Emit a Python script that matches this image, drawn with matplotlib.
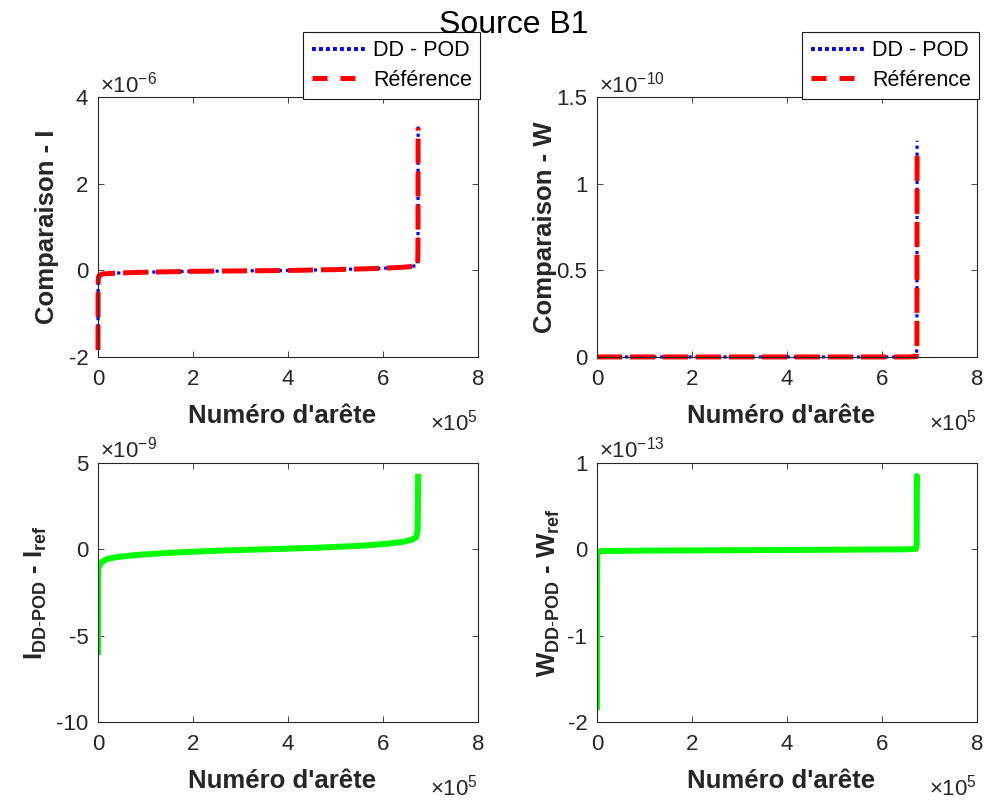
'''
    Comparaison DD-POD / reference pour la source B1.
'''

import matplotlib
matplotlib.use('Agg')
from matplotlib import pyplot as plt
from matplotlib.legend_handler import HandlerLine2D
from matplotlib.ticker import FixedLocator, FuncFormatter


# Courant I (tri croissant) en fonction du numero d'arete.
aretes_i = [0, 150, 400, 1000, 3000, 10000, 40000, 100000, 200000, 300000,
            400000, 500000, 600000, 650000, 670000, 673000, 673600, 673900]
i_ref = [-1.84e-6, -0.6e-6, -0.25e-6, -0.15e-6, -0.11e-6, -0.08e-6,
         -0.06e-6, -0.04e-6, -0.02e-6, -0.01e-6, 0.0, 0.02e-6, 0.05e-6,
         0.08e-6, 0.11e-6, 0.15e-6, 0.5e-6, 3.30e-6]
i_pod = [-1.80e-6, -0.6e-6, -0.25e-6, -0.15e-6, -0.11e-6, -0.08e-6,
         -0.06e-6, -0.04e-6, -0.02e-6, -0.01e-6, 0.0, 0.02e-6, 0.05e-6,
         0.08e-6, 0.11e-6, 0.15e-6, 0.5e-6, 3.36e-6]

# Energie W.
aretes_w = [0, 100000, 300000, 500000, 650000, 672000, 673500, 673900]
w_ref = [0.0, 0.0, 0.0, 0.0, 0.0, 0.002e-10, 0.05e-10, 1.20e-10]
w_pod = [0.0, 0.0, 0.0, 0.0, 0.0, 0.002e-10, 0.05e-10, 1.25e-10]

# Ecart I_DD-POD - I_ref.
aretes_di = [0, 200, 800, 2000, 5000, 10000, 20000, 40000, 80000, 150000,
             250000, 350000, 450000, 550000, 600000, 640000, 660000, 670000,
             673000, 673900]
ecart_i = [-5.95e-9, -1.6e-9, -1.15e-9, -1.0e-9, -0.85e-9, -0.7e-9,
           -0.55e-9, -0.45e-9, -0.33e-9, -0.2e-9, -0.08e-9, 0.0, 0.08e-9,
           0.2e-9, 0.3e-9, 0.42e-9, 0.55e-9, 0.7e-9, 1.1e-9, 4.2e-9]

# Ecart W_DD-POD - W_ref.
aretes_dw = [0, 100, 400, 2000, 10000, 100000, 300000, 500000, 650000,
             671000, 673000, 673500, 673700, 673800]
ecart_w = [-1.83e-13, -0.3e-13, -0.06e-13, -0.03e-13, -0.02e-13,
           -0.015e-13, -0.01e-13, -0.005e-13, 0.0, 0.005e-13, 0.05e-13,
           0.85e-13, 0.75e-13, 0.81e-13]

ticks_x = [0, 200000, 400000, 600000, 800000]

GRIS = '0.15'


# Tirets de la legende facon MATLAB (plus courts que sur les courbes).
def tirets_legende(legline, orig):
    legline.update_from(orig)
    if orig.get_color() == 'red':
        legline.set_dashes((3, 2.6))
    else:
        legline.set_linewidth(2.8)
        legline.set_dashes((1, 0.8))


def habiller(ax, ticks_y, exp_y, ylabel, pos_ylabel):
    ax.set_xlim(0, 800000)
    ax.set_ylim(ticks_y[0] * 10.0 ** exp_y, ticks_y[-1] * 10.0 ** exp_y)
    ax.xaxis.set_major_locator(FixedLocator(ticks_x))
    ax.xaxis.set_major_formatter(FuncFormatter(lambda v, p: f'{v / 1e5:g}'))
    ax.yaxis.set_major_locator(FixedLocator([t * 10.0 ** exp_y for t in ticks_y]))
    ax.yaxis.set_major_formatter(
        FuncFormatter(lambda v, p: f'{round(v / 10.0 ** exp_y, 6):g}'))
    ax.tick_params(direction='in', top=True, right=True, length=4,
                   width=0.6, color=GRIS, labelcolor=GRIS, labelsize=16)
    ax.tick_params(axis='x', pad=9)
    ax.tick_params(axis='y', pad=7)
    for spine in ax.spines.values():
        spine.set_color(GRIS)
        spine.set_linewidth(0.8)

    ax.set_xlabel("Numéro d'arête", fontsize=18.5, fontweight='bold', color=GRIS)
    ax.xaxis.set_label_coords(0.485, -0.18)
    ax.xaxis.label.set_va('top')
    ax.set_ylabel(ylabel, fontsize=18.5, fontweight='bold', color=GRIS)
    ax.yaxis.set_label_coords(pos_ylabel, 0.5)

    # Facteurs d'echelle facon MATLAB.
    ax.text(0.005, 1.02, r'$\times10^{%d}$' % exp_y, transform=ax.transAxes,
            ha='left', va='baseline', fontsize=16, color=GRIS)
    ax.text(1.0, -0.285, r'$\times10^{5}$', transform=ax.transAxes,
            ha='right', va='baseline', fontsize=16, color=GRIS)


def main():
    plt.rcParams['font.family'] = ['Liberation Sans', 'DejaVu Sans']
    plt.rcParams['mathtext.fontset'] = 'custom'
    plt.rcParams['mathtext.rm'] = 'Liberation Sans'
    plt.rcParams['mathtext.it'] = 'Liberation Sans'
    plt.rcParams['mathtext.bf'] = 'Liberation Sans:bold'
    plt.rcParams['axes.unicode_minus'] = False

    figure = plt.figure(figsize=(9.84, 8.02), dpi=100)

    ax1 = figure.add_axes([0.0996, 0.5549, 0.3862, 0.3236])
    ax2 = figure.add_axes([0.6067, 0.5549, 0.3862, 0.3236])
    ax3 = figure.add_axes([0.0996, 0.0998, 0.3862, 0.3229])
    ax4 = figure.add_axes([0.6067, 0.0998, 0.3862, 0.3229])

    # Comparaisons I et W.
    for ax, x, pod, ref in ((ax1, aretes_i, i_pod, i_ref),
                            (ax2, aretes_w, w_pod, w_ref)):
        ax.plot(x, pod, color='blue', linestyle=(0, (1, 1.2)), linewidth=2.3,
                label='DD - POD', clip_on=False)
        ax.plot(x, ref, color='red', linestyle=(0, (5, 1.6)), linewidth=3.6,
                label='Référence', clip_on=False)
        leg = ax.legend(loc='lower right', bbox_to_anchor=(1.005, 0.995),
                        borderaxespad=0, fontsize=15.5, fancybox=False,
                        framealpha=1, edgecolor='0.1', handlelength=2.5,
                        handletextpad=0.35, borderpad=0.38, labelspacing=0.38,
                        handler_map={plt.Line2D: HandlerLine2D(
                            update_func=tirets_legende)})
        leg.get_frame().set_linewidth(0.8)

    ax3.plot(aretes_di, ecart_i, color=(0, 1, 0), linewidth=4.3)
    ax4.plot(aretes_dw, ecart_w, color=(0, 1, 0), linewidth=4.3)

    habiller(ax1, [-2, 0, 2, 4], -6, 'Comparaison - I', -0.103)
    habiller(ax2, [0, 0.5, 1, 1.5], -10, 'Comparaison - W', -0.105)
    habiller(ax3, [-10, -5, 0, 5], -9,
             r'$\mathbf{I_{DD\text{-}POD}}$ - $\mathbf{I_{ref}}$', -0.13)
    habiller(ax4, [-2, -1, 0, 1], -13,
             r'$\mathbf{W_{DD\text{-}POD}}$ - $\mathbf{W_{ref}}$', -0.092)

    figure.text(0.522, 0.959, 'Source B1', ha='center', va='baseline',
                fontsize=23, color='black')

    figure.savefig('out.png', dpi=100)


if __name__ == '__main__':
    main()
